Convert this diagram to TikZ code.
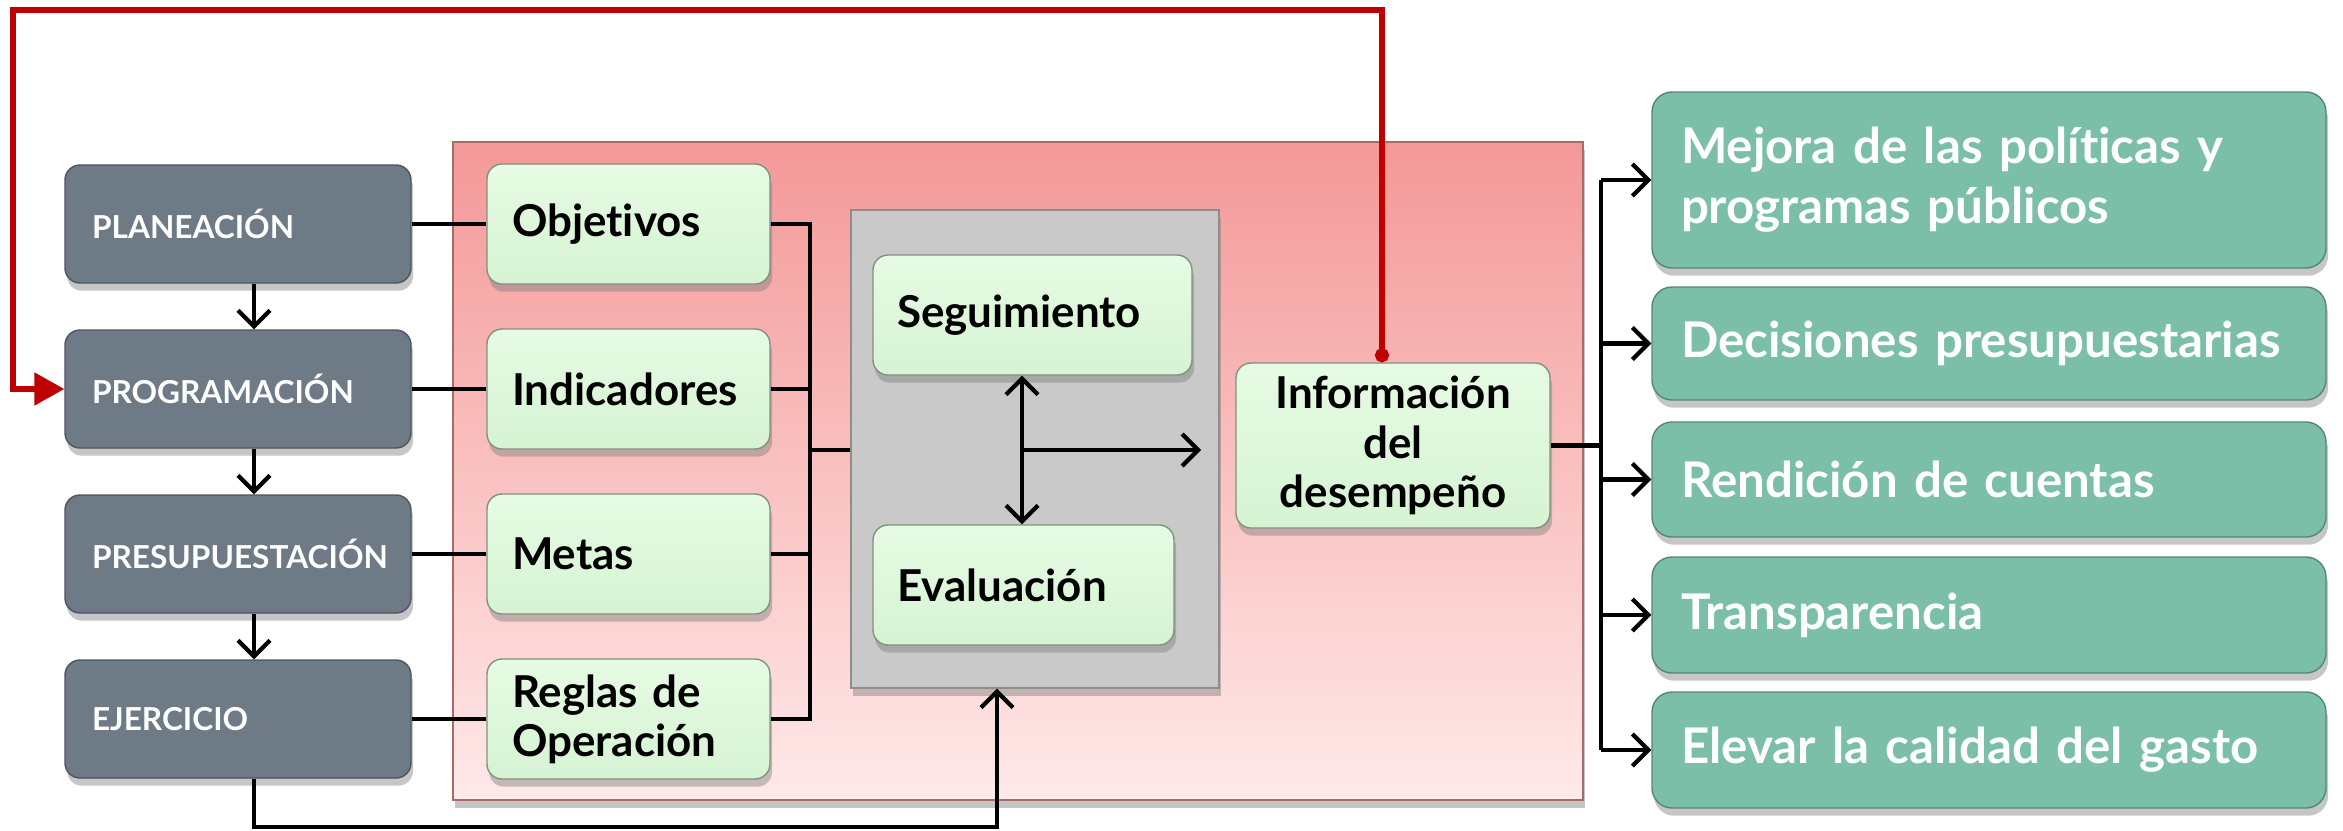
\documentclass[tikz,border=0pt]{standalone}
\usepackage{fontspec}
\setmainfont{Lato}[Ligatures={NoCommon}]
\usetikzlibrary{shadows,arrows.meta}

\definecolor{slate}{HTML}{6E7A86}
\definecolor{mintA}{HTML}{E6FBE3}
\definecolor{mintB}{HTML}{D6F3D3}
\definecolor{tealbox}{HTML}{7BBFA9}
\definecolor{pinktop}{HTML}{F49898}
\definecolor{pinkbot}{HTML}{FFE9E9}
\definecolor{panelgray}{HTML}{C9C9C9}
\definecolor{loopred}{HTML}{C00000}

\begin{document}
\begin{tikzpicture}[
        boxshadow/.style={drop shadow={opacity=0.45, shadow xshift=0.6pt, shadow yshift=-2.2pt}},
        stage/.style={rounded corners=0.15cm, fill=slate, draw=slate!70!black,
            text=white, font=\bfseries\fontsize{9}{10}\selectfont,
            minimum height=1.18cm, text width=2.92cm, inner xsep=0.27cm,
            align=left, boxshadow},
        item/.style={rounded corners=0.15cm, top color=mintA, bottom color=mintB,
            draw=mintB!60!black, text=black, font=\bfseries\fontsize{12.5}{14}\selectfont,
            minimum height=1.2cm, text width=2.33cm, inner xsep=0.25cm,
            align=left, boxshadow},
        result/.style={rounded corners=0.2cm, fill=tealbox, draw=tealbox!70!black,
            text=white, font=\bfseries\fontsize{14}{17}\selectfont,
            text width=6.16cm, inner xsep=0.29cm, align=left, boxshadow},
        zone/.style={top color=pinktop, bottom color=pinkbot, draw=pinktop!70!black,
            minimum width=11.30cm, minimum height=6.58cm, boxshadow},
        panel/.style={fill=panelgray, draw=panelgray!70!black,
            minimum width=3.68cm, minimum height=4.78cm, boxshadow},
        wire/.style={line width=1.2pt, black},
        tip/.style={-{Straight Barb[length=1.6mm, width=3.2mm]}},
        feedback/.style={line width=1.5pt, loopred},
    ]
    \useasboundingbox (0,0) rectangle (23.43,8.30);

    % fondo
    \node[zone] (zone) at (10.18,3.59) {};
    \node[panel] (panel) at (10.35,3.81) {};

    % ciclo presupuestario
    \node[stage] (plan) at (2.38,6.06) {PLANEACIÓN};
    \node[stage] (prog) at (2.38,4.41) {PROGRAMACIÓN};
    \node[stage] (pres) at (2.38,2.76) {PRESUPUESTACIÓN};
    \node[stage] (ejer) at (2.38,1.11) {EJERCICIO};

    \node[item] (obj) at (6.285,6.06) {Objetivos};
    \node[item] (ind) at (6.285,4.41) {Indicadores};
    \node[item] (met) at (6.285,2.76) {Metas};
    \node[item] (reg) at (6.285,1.11) {Reglas de\\Operación};

    \node[item, text width=2.71cm, inner xsep=0.24cm] (seg) at (10.325,5.15) {Seguimiento};
    \node[item, text width=2.53cm, inner xsep=0.24cm] (eva) at (10.235,2.45) {Evaluación};

    \node[item, text width=2.64cm, minimum height=1.65cm, align=center] (info) at (13.93,3.845)
        {Información\\del\\desempeño};

    \node[result, minimum height=1.76cm] (mej) at (19.89,6.50) {Mejora de las políticas y\\programas públicos};
    \node[result, minimum height=1.13cm] (dec) at (19.89,4.865) {Decisiones presupuestarias};
    \node[result, minimum height=1.15cm] (ren) at (19.89,3.505) {Rendición de cuentas};
    \node[result, minimum height=1.16cm] (tra) at (19.89,2.15) {Transparencia};
    \node[result, minimum height=1.16cm] (ele) at (19.89,0.80) {Elevar la calidad del gasto};

    \coordinate (busT) at (8.10,6.06);
    \coordinate (busB) at (8.10,1.11);
    \coordinate (busM) at (8.10,3.80);
    \coordinate (hub) at (10.22,3.80);
    \coordinate (out) at (12.01,3.80);
    \coordinate (fan) at (16.01,3.80);
    \coordinate (corner) at (0.13,8.20);
    \coordinate (base) at (9.97,0.03);

    \foreach \a/\b in {plan/obj, prog/ind, pres/met, ejer/reg}
        \draw[wire] (\a) -- (\b);
    \foreach \a/\b in {plan/prog, prog/pres, pres/ejer}
        \draw[wire, tip] ([xshift=0.16cm]\a.south) -- ([xshift=0.16cm]\b.north);

    \draw[wire] (obj.east) -- (busT) -- (busB) -- (reg.east);
    \draw[wire] (ind.east) -- (ind.east -| busT);
    \draw[wire] (met.east) -- (met.east -| busT);
    \draw[wire] (busM) -- (busM -| panel.west);

    \draw[wire, {Straight Barb[length=1.6mm, width=3.2mm]}-{Straight Barb[length=1.6mm, width=3.2mm]}]
        (seg.south -| hub) -- (eva.north -| hub);
    \draw[wire, tip] (hub) -- (out);

    \draw[wire] (info.east) -- (fan |- info.east);
    \draw[wire] (fan |- mej.west) -- (fan |- ele.west);
    \foreach \r in {mej, dec, ren, tra, ele}
        \draw[wire, tip] (fan |- \r.west) -- (\r.west);

    % retroalimentacion
    \draw[feedback, {Circle[length=4pt]}-{Triangle[length=3mm, width=3.2mm]}]
        ([xshift=-0.11cm]info.north) |- (corner) |- (prog.west);

    \draw[wire, tip] ([xshift=0.16cm]ejer.south) |- (base) -- (base |- panel.south);
\end{tikzpicture}
\end{document}
